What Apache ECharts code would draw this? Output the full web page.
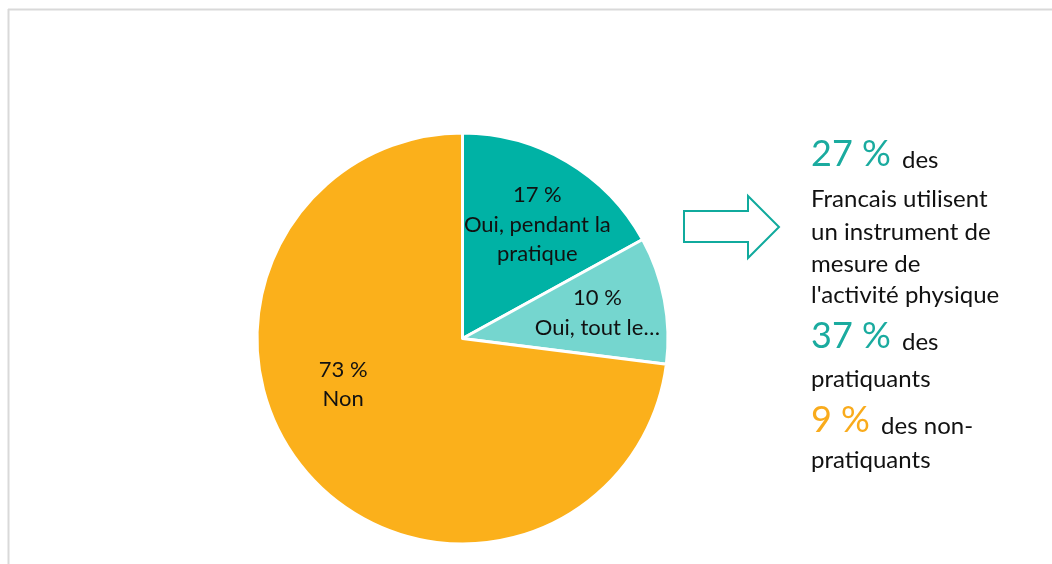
<!DOCTYPE html>
<html>
<head>
<meta charset="utf-8">
<script src="https://cdn.jsdelivr.net/npm/echarts@6/dist/echarts.min.js"></script>
<style>
  html, body { margin: 0; padding: 0; background: #ffffff; }
  #chart { width: 1052px; height: 564px; }
</style>
</head>
<body>
<div id="chart"></div>
<script>
// ---- data ----
const categories = ['Oui, pendant la\npratique', 'Oui, tout le…', 'Non'];
const values = [17, 10, 73];
const noteLines = [
  '{bigT|27 %}{g| des}',
  '{s|Francais utilisent}',
  '{s|un instrument de}',
  '{s|mesure de}',
  "{s|l'activité physique}",
  '{bigT|37 %}{g| des}',
  '{s|pratiquants}',
  '{bigO|9 %}{g| des non-}',
  '{s|pratiquants}'
];

// ---- styling / layout ----
const sliceColors = ['#00b2a5', '#75d6cf', '#fbb01b'];
const labelShift = [[21, -23], [31, -6], [-40, -24]];
const noteY = [152, 197, 230, 262, 293, 334, 377, 418, 458];
const FONT = 'Lato, "Open Sans", sans-serif';

const chart = echarts.init(document.getElementById('chart'), null, { renderer: 'canvas' });

const richStyles = {
  bigT: { fontSize: 36, fill: '#1aab9f', fontFamily: FONT, verticalAlign: 'bottom', lineHeight: 40 },
  bigO: { fontSize: 36, fill: '#f9ab1c', fontFamily: FONT, verticalAlign: 'bottom', lineHeight: 40 },
  s: { fontSize: 24, fill: '#111111', fontFamily: FONT, verticalAlign: 'bottom', lineHeight: 29 },
  g: { fontSize: 24, fill: '#111111', fontFamily: FONT, verticalAlign: 'bottom', lineHeight: 29, padding: [0, 0, 0, 5] }
};

const graphics = [
  { type: 'line', shape: { x1: 8, y1: 9.5, x2: 1052, y2: 9.5 }, style: { stroke: '#d9d9d9', lineWidth: 2 }, silent: true },
  { type: 'line', shape: { x1: 8.5, y1: 9, x2: 8.5, y2: 564 }, style: { stroke: '#d9d9d9', lineWidth: 2 }, silent: true },
  {
    type: 'polygon',
    shape: { points: [[684, 211], [748, 211], [748, 196], [779, 227], [748, 258], [748, 242], [684, 242]] },
    style: { fill: '#ffffff', stroke: '#10aa9d', lineWidth: 2 },
    silent: true
  }
];
noteLines.forEach(function (t, i) {
  graphics.push({
    type: 'text',
    x: 811,
    y: noteY[i],
    style: {
      text: t,
      rich: richStyles,
      align: 'left',
      verticalAlign: 'middle',
      fontFamily: FONT,
      fontSize: 24,
      fill: '#111111'
    },
    silent: true
  });
});

chart.setOption({
  backgroundColor: '#ffffff',
  animation: false,
  graphic: graphics,
  series: [{
    type: 'pie',
    center: [462.5, 338.5],
    radius: 205.5,
    startAngle: 90,
    clockwise: true,
    avoidLabelOverlap: false,
    itemStyle: { borderColor: '#ffffff', borderWidth: 3 },
    label: {
      show: true,
      position: 'inside',
      fontFamily: FONT,
      fontSize: 22,
      lineHeight: 29.5,
      color: '#111111',
      align: 'center',
      formatter: function (p) { return p.value + ' %\n' + p.name; }
    },
    labelLine: { show: false },
    emphasis: { disabled: true },
    labelLayout: function (p) {
      const s = labelShift[p.dataIndex];
      return { dx: s[0], dy: s[1] };
    },
    data: categories.map(function (c, i) {
      return { name: c, value: values[i], itemStyle: { color: sliceColors[i] } };
    })
  }]
});
</script>
</body>
</html>
